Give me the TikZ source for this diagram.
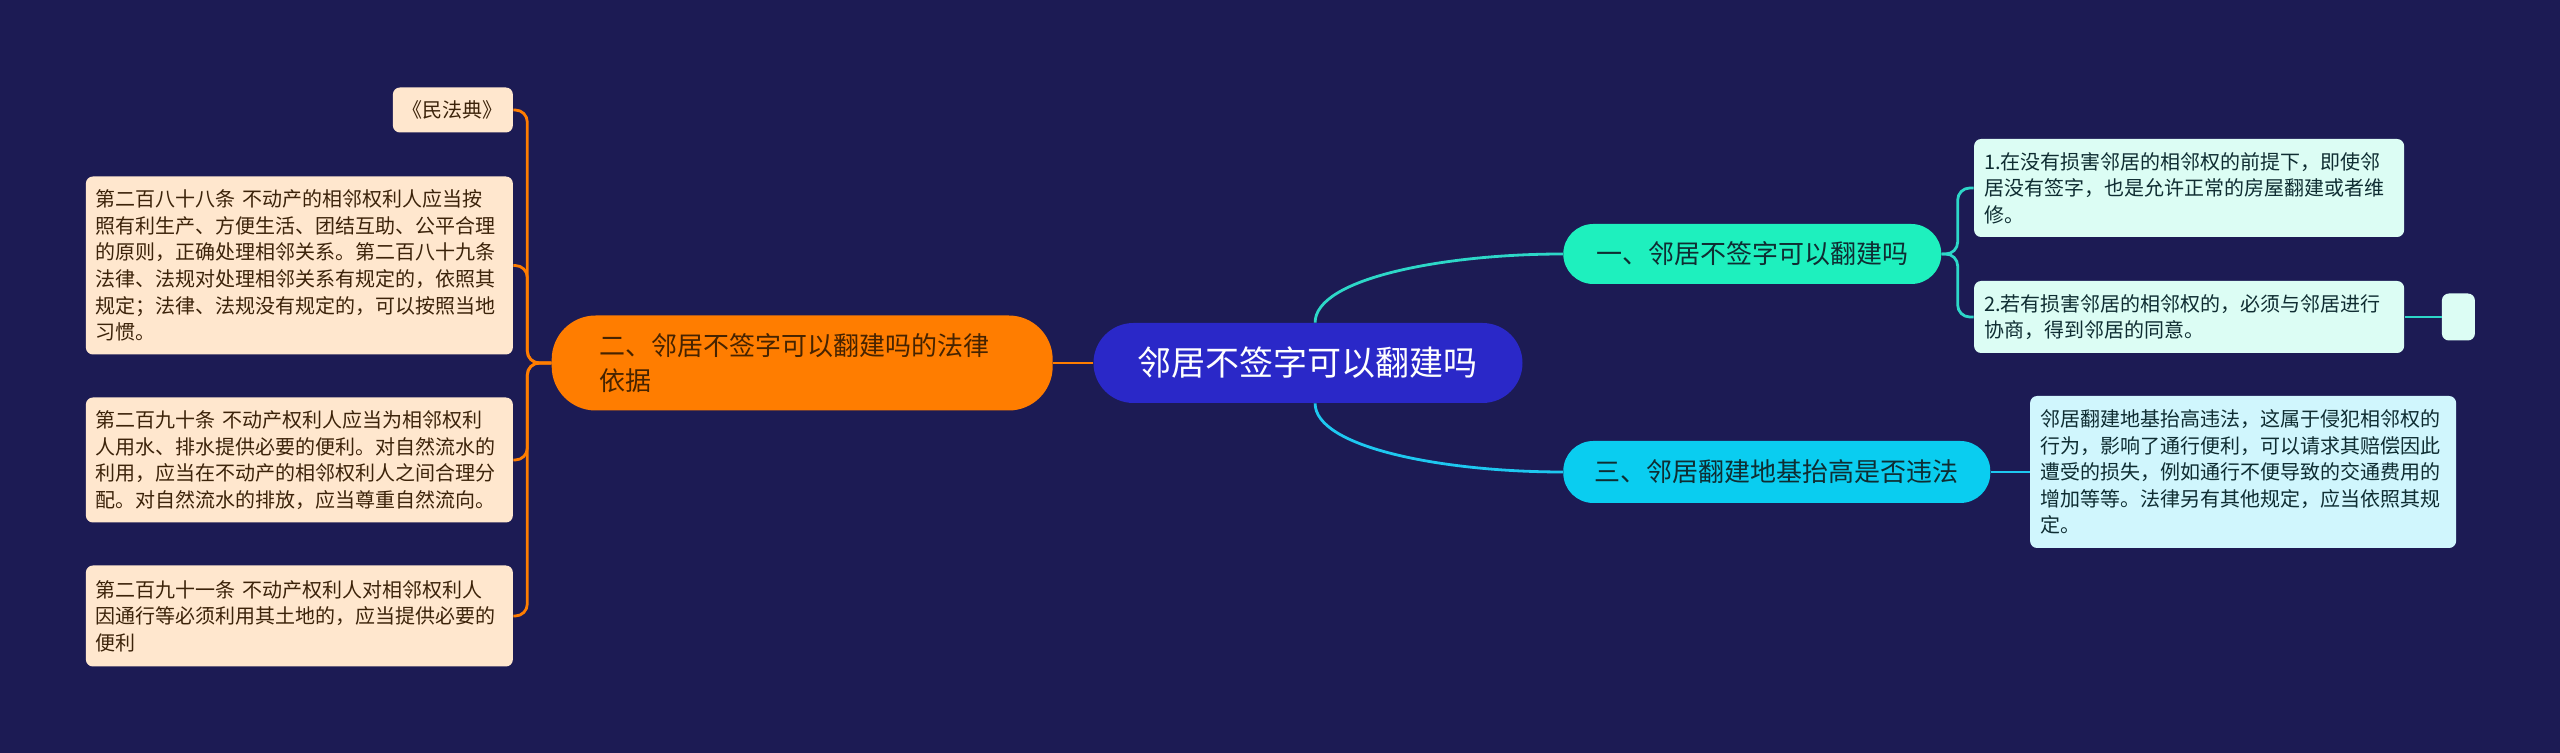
\documentclass[tikz,border=0pt]{standalone}
\usepackage{fontspec}
\setmainfont{Noto Sans CJK SC}
\usepackage{tikz}
\usetikzlibrary{positioning}
\definecolor{bgnavy}{RGB}{28,27,84}
\definecolor{rootblue}{RGB}{42,40,200}
\definecolor{laworange}{RGB}{255,125,0}
\definecolor{lawtext}{RGB}{70,35,0}
\definecolor{qgreen}{RGB}{30,240,190}
\definecolor{qcyan}{RGB}{10,205,240}
\definecolor{qtext}{RGB}{15,45,50}
\definecolor{mintleaf}{RGB}{220,253,244}
\definecolor{iceleaf}{RGB}{208,246,253}
\definecolor{peachleaf}{RGB}{255,231,206}
\definecolor{peachtext}{RGB}{60,35,10}
\definecolor{tealline}{RGB}{45,215,200}
\definecolor{cyanline}{RGB}{30,200,240}

\begin{document}
\begin{tikzpicture}[
  rootbox/.style={fill=rootblue,text=white,rounded corners=20pt,minimum width=214.5pt,minimum height=40pt,font=\fontsize{17}{20}\selectfont},
  subbox/.style={rounded corners=15pt,inner xsep=12pt,font=\fontsize{13}{17.5}\selectfont},
  leaf/.style={rounded corners=3.5pt,inner xsep=5pt,align=left,font=\fontsize{10}{13.3}\selectfont},
  lawleaf/.style={leaf,fill=peachleaf,text=peachtext},
  olink/.style={draw=laworange,line width=1.4pt},
  glink/.style={draw=tealline,line width=1.4pt},
  clink/.style={draw=cyanline,line width=1.4pt}]
\fill[bgnavy] (-654pt,181.5pt) rectangle (626pt,-195pt);
\useasboundingbox (-654pt,181.5pt) rectangle (626pt,-195pt);
% centre and first level
\node[rootbox] (root) {邻居不签字可以翻建吗};
\node[subbox,fill=laworange,text=lawtext,left=20pt of root,rounded corners=22pt,inner xsep=24pt,
  text width=202.5pt,align=left,minimum height=47.5pt] (law) {二、邻居不签字可以翻建吗的法律\\依据};
\node[subbox,fill=qgreen,text=qtext,right=20pt of root,yshift=54.5pt,minimum width=189pt,minimum height=30pt] (q1) {一、邻居不签字可以翻建吗};
\node[subbox,fill=qcyan,text=qtext,right=20pt of root,yshift=-54.5pt,minimum width=213.5pt,minimum height=31pt] (q3) {三、邻居翻建地基抬高是否违法};
% right leaves
\node[leaf,fill=mintleaf,text=qtext,right=16pt of q1,yshift=33pt,text width=205pt,minimum height=49pt] (a1)
  {1.在没有损害邻居的相邻权的前提下，即使邻\\居没有签字，也是允许正常的房屋翻建或者维\\修。};
\node[leaf,fill=mintleaf,text=qtext,right=16pt of q1,yshift=-31.5pt,text width=205pt,minimum height=36pt] (a2)
  {2.若有损害邻居的相邻权的，必须与邻居进行\\协商，得到邻居的同意。};
\node[fill=mintleaf,rounded corners=3.5pt,right=18.5pt of a2,minimum width=16.5pt,minimum height=23.5pt,inner sep=0pt] (blank) {};
\node[leaf,fill=iceleaf,text=qtext,right=19.5pt of q3,text width=203pt,minimum height=76pt] (a3)
  {邻居翻建地基抬高违法，这属于侵犯相邻权的\\行为，影响了通行便利，可以请求其赔偿因此\\遭受的损失，例如通行不便导致的交通费用的\\增加等等。法律另有其他规定，应当依照其规\\定。};
% left leaves
\node[lawleaf,left=19pt of law,yshift=126.5pt,minimum height=22.5pt] (b0) {《民法典》};
\node[lawleaf,left=19pt of law,yshift=48.75pt,text width=203.5pt,minimum height=89pt] (b1)
  {第二百八十八条 不动产的相邻权利人应当按\\照有利生产、方便生活、团结互助、公平合理\\的原则，正确处理相邻关系。第二百八十九条\\法律、法规对处理相邻关系有规定的，依照其\\规定；法律、法规没有规定的，可以按照当地\\习惯。};
\node[lawleaf,left=19pt of law,yshift=-48.5pt,text width=203.5pt,minimum height=62.5pt] (b2)
  {第二百九十条 不动产权利人应当为相邻权利\\人用水、排水提供必要的便利。对自然流水的\\利用，应当在不动产的相邻权利人之间合理分\\配。对自然流水的排放，应当尊重自然流向。};
\node[lawleaf,left=19pt of law,yshift=-126.5pt,text width=203.5pt,minimum height=50.5pt] (b3)
  {第二百九十一条 不动产权利人对相邻权利人\\因通行等必须利用其土地的，应当提供必要的\\便利};
% connectors
\draw[olink] (root) -- (law);
\foreach \n in {b0,b1,b2,b3}
  \draw[olink,rounded corners=6pt] (law.west) -- ++(-12pt,0) |- (\n.east);
\draw[glink] (root.80) .. controls +(0,22pt) and +(-60pt,0) .. (q1.west);
\draw[clink] (root.-80) .. controls +(0,-22pt) and +(-60pt,0) .. (q3.west);
\foreach \n in {a1,a2}
  \draw[glink,rounded corners=6pt] (q1.east) -- ++(8pt,0) |- (\n.west);
\draw[glink] (a2) -- (blank);
\draw[clink] (q3) -- (a3);
\end{tikzpicture}
\end{document}
